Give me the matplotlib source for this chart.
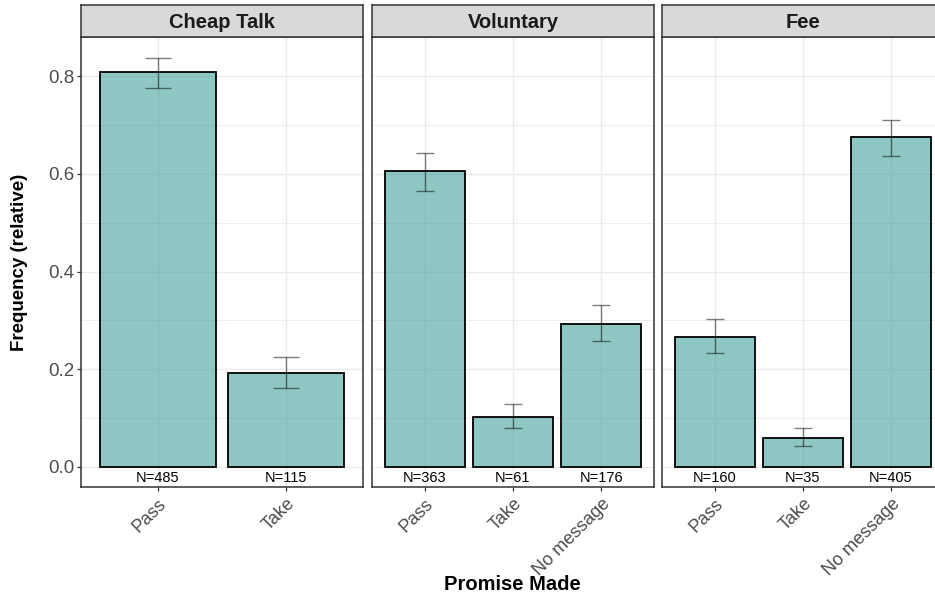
import matplotlib
matplotlib.use("Agg")
import matplotlib.pyplot as plt
from matplotlib.ticker import MultipleLocator

plt.rcParams['font.family'] = ['Liberation Sans', 'DejaVu Sans']

# Treatments (facets) and their message categories
treatments = ["Cheap Talk", "Voluntary", "Fee"]

cheap_cats = ["Pass", "Take"]
cheap_n = [485, 115]
cheap_lo = [0.775, 0.162]
cheap_hi = [0.838, 0.226]

vol_cats = ["Pass", "Take", "No message"]
vol_n = [363, 61, 176]
vol_lo = [0.565, 0.080, 0.258]
vol_hi = [0.643, 0.129, 0.331]

fee_cats = ["Pass", "Take", "No message"]
fee_n = [160, 35, 405]
fee_lo = [0.233, 0.042, 0.637]
fee_hi = [0.303, 0.080, 0.711]

y_ticks = [0.0, 0.2, 0.4, 0.6, 0.8]
y_tick_labels = ["0.0", "0.2", "0.4", "0.6", "0.8"]

panels = [
    (cheap_cats, cheap_n, cheap_lo, cheap_hi),
    (vol_cats, vol_n, vol_lo, vol_hi),
    (fee_cats, fee_n, fee_lo, fee_hi),
]

W, H = 935, 597
fig = plt.figure(figsize=(W / 100, H / 100), dpi=100)

panel_left = [81, 372, 662]
panel_w = 282
panel_top, panel_bot = 37, 487
strip_top = 5

border = "#333333"
grid_c = "#EBEBEB"
bar_fill = "#21908C"

for i, (title, (cats, ns, lo, hi)) in enumerate(zip(treatments, panels)):
    total = sum(ns)
    freq = [n / total for n in ns]
    x = list(range(len(cats)))

    ax = fig.add_axes([panel_left[i] / W, (H - panel_bot) / H,
                       panel_w / W, (panel_bot - panel_top) / H])
    ax.set_xlim(-0.6, len(cats) - 0.4)
    ax.set_ylim(-0.041, 0.88)

    # grid
    ax.set_axisbelow(True)
    ax.yaxis.set_major_locator(MultipleLocator(0.2))
    ax.yaxis.set_minor_locator(MultipleLocator(0.1))
    ax.grid(True, which="major", color=grid_c, lw=1.0)
    ax.grid(True, which="minor", axis="y", color=grid_c, lw=0.6)

    ax.bar(x, freq, width=0.9, color=bar_fill, alpha=0.5, zorder=2)
    ax.bar(x, freq, width=0.9, facecolor="none", edgecolor="black",
           lw=1.3, zorder=3)
    ax.errorbar(x, freq,
                yerr=[[f - l for f, l in zip(freq, lo)],
                      [h - f for f, h in zip(freq, hi)]],
                fmt="none", ecolor="black", alpha=0.5, elinewidth=1.0,
                capsize=0, zorder=4)
    cap = 0.1
    for xi, l, h in zip(x, lo, hi):
        for yv in (l, h):
            ax.plot([xi - cap, xi + cap], [yv, yv], color="black",
                    alpha=0.5, lw=1.0, zorder=4, solid_capstyle="butt")

    for xi, n in zip(x, ns):
        ax.text(xi, -0.0225, f"N={n}", ha="center", va="center",
                fontsize=10.5, color="black", zorder=5)

    ax.set_xticks(x)
    ax.set_xticklabels(cats, rotation=45, ha="right", va="top",
                       rotation_mode="anchor")
    ax.tick_params(axis="x", which="major", length=3, width=0.9,
                   color=border, labelsize=13, labelcolor="#4D4D4D", pad=3)
    ax.tick_params(axis="y", which="minor", length=0)
    if i == 0:
        ax.set_yticks(y_ticks)
        ax.set_yticklabels(y_tick_labels)
        ax.tick_params(axis="y", which="major", length=3, width=0.9,
                       color=border, labelsize=13.5, labelcolor="#4D4D4D",
                       pad=2)
    else:
        ax.tick_params(axis="y", which="major", length=0, labelleft=False)

    for s in ax.spines.values():
        s.set_color(border)
        s.set_linewidth(1.1)
        s.set_zorder(6)

    # facet strip
    sax = fig.add_axes([panel_left[i] / W, (H - panel_top) / H,
                        panel_w / W, (panel_top - strip_top) / H])
    sax.set_facecolor("#D9D9D9")
    sax.set_xticks([])
    sax.set_yticks([])
    for s in sax.spines.values():
        s.set_color(border)
        s.set_linewidth(1.1)
    sax.text(0.5, 0.45, title, transform=sax.transAxes, ha="center",
             va="center", fontsize=14.5, fontweight="bold", color="#1A1A1A")

fig.text(20 / W, 1 - 262 / H, "Frequency (relative)", rotation=90,
         ha="center", va="center", fontsize=13.5, fontweight="bold")
fig.text(512 / W, 1 - 585 / H, "Promise Made", ha="center", va="center",
         fontsize=14.5, fontweight="bold")

fig.savefig("out.png", dpi=100, facecolor="white")
